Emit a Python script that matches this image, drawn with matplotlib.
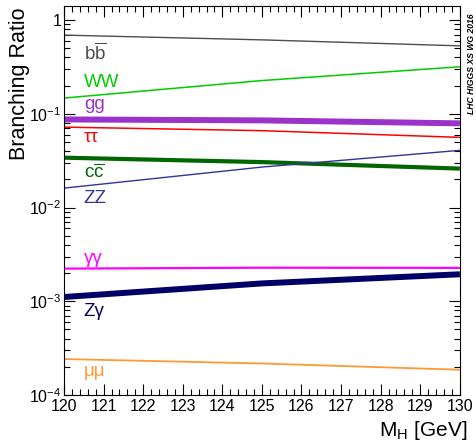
import numpy as np
import matplotlib
matplotlib.use('Agg')
import matplotlib.pyplot as plt
from matplotlib.ticker import LogLocator, MultipleLocator, FuncFormatter, NullFormatter

plt.rcParams['font.family'] = ['Liberation Sans', 'DejaVu Sans']
plt.rcParams['mathtext.fontset'] = 'custom'
plt.rcParams['mathtext.rm'] = 'Liberation Sans'
plt.rcParams['mathtext.it'] = 'Liberation Sans'

mass = [120, 125, 130]
br_bb = [0.69, 0.614, 0.53]
br_ww = [0.147, 0.226, 0.317]
br_gg = [0.087, 0.085, 0.079]
br_tautau = [0.072, 0.066, 0.056]
br_cc = [0.034, 0.0305, 0.026]
br_zz = [0.0161, 0.027, 0.0407]
br_gamgam = [0.00223, 0.00228, 0.00227]
br_zgam = [0.00111, 0.00155, 0.00194]
br_mumu = [0.000242, 0.000217, 0.000186]

labels = [r'$\mathregular{b\overline{b}}$', 'WW', 'gg', 'ττ', r'$\mathregular{c\overline{c}}$',
          'ZZ', 'γγ', 'Zγ', 'μμ']

fig = plt.figure(figsize=(4.76, 4.42), dpi=100)
ax = fig.add_axes([0.1345, 0.1063, 0.8315, 0.8801])

series = [br_bb, br_ww, br_gg, br_tautau, br_cc, br_zz, br_gamgam, br_zgam, br_mumu]
colors = ['#4d4d4d', '#00cc00', '#9933cc', '#ff0000', '#006600', '#333399', '#ff00ff', '#000066', '#ff9933']
widths = [1.0, 1.1, 4.3, 1.1, 3.0, 1.0, 1.6, 4.3, 1.3]
label_y = [0.44, 0.217, 0.126, 0.0564, 0.0233, 0.0126, 0.00286, 0.00077, 0.000177]

for vals, c, lw in zip(series, colors, widths):
    ax.plot(mass, vals, color=c, lw=lw, solid_capstyle='butt')

for lab, c, y in zip(labels, colors, label_y):
    ax.text(120.5, y, lab, color=c, fontsize=13.5, va='center', ha='left')

ax.set_yscale('log')
ax.set_xlim(120, 130)
ax.set_ylim(1e-4, 1.41)

ax.xaxis.set_major_locator(MultipleLocator(1))
ax.xaxis.set_minor_locator(MultipleLocator(0.2))
ax.yaxis.set_major_locator(LogLocator(base=10, numticks=10))
ax.yaxis.set_minor_locator(LogLocator(base=10, subs=np.arange(2, 10), numticks=20))
ax.yaxis.set_minor_formatter(NullFormatter())

def yfmt(v, pos):
    e = int(round(np.log10(v)))
    if e == 0:
        return '1'
    return r'$\mathregular{10^{%d}}$' % e

ax.yaxis.set_major_formatter(FuncFormatter(yfmt))

ax.tick_params(which='both', direction='in', top=True, right=True, labelsize=11.5, width=0.8)
ax.tick_params(which='major', length=8)
ax.tick_params(which='minor', length=4)
ax.tick_params(axis='x', pad=3)
ax.tick_params(axis='y', pad=2)

ax.set_ylabel('Branching Ratio', fontsize=15.5)
ax.yaxis.set_label_coords(-0.085, 0.8)
ax.set_xlabel(r'$\mathregular{M_H}$ [GeV]', fontsize=15)
ax.xaxis.set_label_coords(1.018, -0.062)
ax.xaxis.label.set_ha('right')

fig.text(0.99, 0.855, 'LHC HIGGS XS WG 2016', rotation=90, fontsize=6.2,
         fontweight='bold', fontstyle='italic', ha='center', va='center')

fig.savefig('out.png', dpi=100)
